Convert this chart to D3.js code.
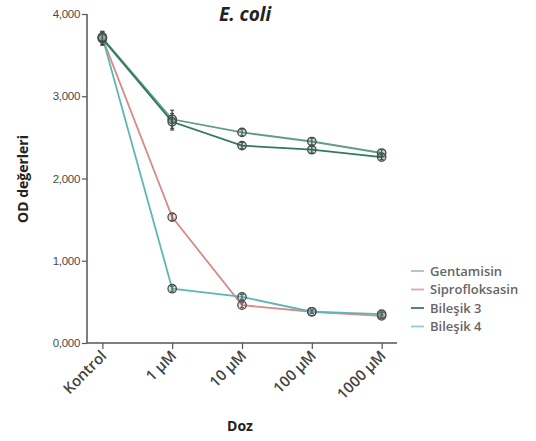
<!DOCTYPE html>
<html><head><meta charset="utf-8">
<script src="https://cdn.jsdelivr.net/npm/d3@7"></script>
<style>body{margin:0;background:#fff}svg{display:block}</style>
</head><body><svg id="c" width="536" height="441"></svg>
<script>
const categories = ["Kontrol", "1 µM", "10 µM", "100 µM", "1000 µM"];
const seriesNames = ["Gentamisin", "Siprofloksasin", "Bileşik 3", "Bileşik 4"];
const gentamisin = [3710, 2720, 2560, 2450, 2310];
const siprofloksasin = [3710, 1530, 460, 380, 330];
const bilesik3 = [3700, 2690, 2400, 2350, 2260];
const bilesik4 = [3720, 660, 560, 380, 350];
const gentamisinErr = [80, 110, 40, 40, 40];
const siprofloksasinErr = [60, 40, 30, 20, 20];
const bilesik3Err = [80, 100, 40, 40, 30];
const bilesik4Err = [60, 30, 30, 20, 20];
const yTicks = [0, 1000, 2000, 3000, 4000];
const yTickLabels = ["0,000", "1,000", "2,000", "3,000", "4,000"];
const colors = ["#5f9e80", "#d88a8a", "#2f7a5c", "#5fb6b6"];
const legendColors = ["#a9c2bd", "#e2a3ae", "#3f7470", "#8fd0cf"];

const series = [gentamisin, siprofloksasin, bilesik3, bilesik4];
const errs = [gentamisinErr, siprofloksasinErr, bilesik3Err, bilesik4Err];

const svg = d3.select("#c");
const x = d3.scalePoint().domain(categories).range([87, 397]).padding(0.22);
const y = d3.scaleLinear().domain([0, 4000]).range([343, 14]);

// axes
const yAxis = svg.append("g").attr("transform", "translate(87,0)")
  .call(d3.axisLeft(y).tickValues(yTicks).tickFormat((d,i)=>yTickLabels[i]).tickSize(5).tickPadding(2));
yAxis.select(".domain").attr("stroke", "#555").attr("stroke-width", 1.5).attr("d", "M0,14V343");
yAxis.selectAll(".tick line").attr("stroke", "#555").attr("stroke-width", 1.2);
yAxis.selectAll(".tick text").attr("fill", "#4a4a4a").style("font-family", "Liberation Sans, Arial, sans-serif").style("font-size", "11.5px").style("letter-spacing", "-0.3px");

const xAxis = svg.append("g").attr("transform", "translate(0,343)")
  .call(d3.axisBottom(x).tickSize(5).tickPadding(3));
xAxis.select(".domain").attr("stroke", "#555").attr("stroke-width", 1.5).attr("d", "M87,0H397");
xAxis.selectAll(".tick line").attr("stroke", "#555").attr("stroke-width", 1.2).attr("y1", 0).attr("y2", 6);
xAxis.selectAll(".tick text").attr("fill", "#444")
  .style("font-family", "Open Sans, Liberation Sans, sans-serif").style("font-size", "15px")
  .style("font-weight", "600")
  .attr("text-anchor", "end").attr("dy", "0.35em")
  .attr("transform", "translate(1,10) rotate(-45)").attr("x", 0).attr("y", 0);

// lines
const line = d3.line().x((d,i)=>x(categories[i])).y(d=>y(d));
series.forEach((s, k) => {
  svg.append("path").datum(s).attr("d", line).attr("fill", "none")
    .attr("stroke", colors[k]).attr("stroke-width", 1.8);
});
// error bars and markers
series.forEach((s, k) => {
  const g = svg.append("g");
  s.forEach((v, i) => {
    const cx = x(categories[i]);
    const e = errs[k][i];
    g.append("line").attr("x1", cx).attr("x2", cx).attr("y1", y(v+e)).attr("y2", y(v-e))
      .attr("stroke", "#444").attr("stroke-width", 1.3);
    [v+e, v-e].forEach(t => g.append("line").attr("x1", cx-2).attr("x2", cx+2).attr("y1", y(t)).attr("y2", y(t))
      .attr("stroke", "#444").attr("stroke-width", 1.2));
    g.append("circle").attr("cx", cx).attr("cy", y(v)).attr("r", 4.2)
      .attr("fill", colors[k]).attr("fill-opacity", 0.3).attr("stroke", "#4a4a4a").attr("stroke-width", 1.3);
  });
});

// title
svg.append("text").attr("x", 245).attr("y", 21).attr("text-anchor", "middle")
  .style("font-family", "Open Sans, Liberation Sans, sans-serif").style("font-size", "19px")
  .style("font-weight", "bold").style("font-style", "italic").attr("fill", "#222").text("E. coli");
// y label
svg.append("text").attr("transform", "translate(28,179) rotate(-90)").attr("text-anchor", "middle")
  .style("font-family", "Open Sans, Liberation Sans, sans-serif").style("font-size", "14px")
  .style("font-weight", "bold").attr("fill", "#222").text("OD değerleri");
// x label
svg.append("text").attr("x", 240).attr("y", 431).attr("text-anchor", "middle")
  .style("font-family", "Open Sans, Liberation Sans, sans-serif").style("font-size", "14px")
  .style("font-weight", "bold").attr("fill", "#222").text("Doz");

// legend
const lg = svg.append("g");
seriesNames.forEach((n, i) => {
  const yy = 271 + i * 18.5;
  lg.append("line").attr("x1", 411).attr("x2", 424).attr("y1", yy).attr("y2", yy)
    .attr("stroke", legendColors[i]).attr("stroke-width", 1.8);
  lg.append("text").attr("x", 430).attr("y", yy).attr("dy", "0.35em")
    .style("font-family", "Open Sans, Liberation Sans, sans-serif").style("font-size", "13px")
    .style("font-weight", "600").attr("fill", "#666").text(n);
});
</script></body></html>
